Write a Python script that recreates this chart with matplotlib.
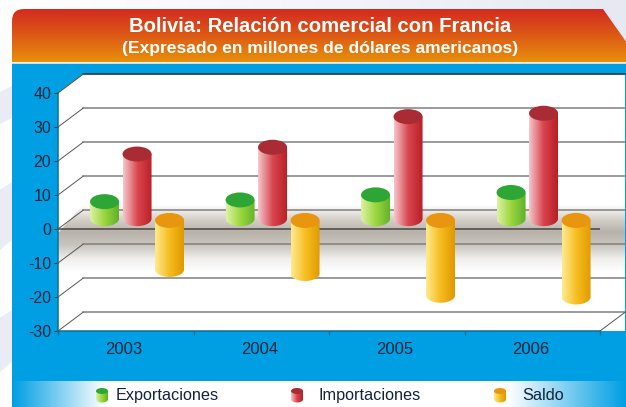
# Bolivia: relacion comercial con Francia, columnas cilindricas con pared 3D.

import numpy as np
import matplotlib
matplotlib.use("Agg")
from matplotlib import pyplot as plt
from matplotlib.colors import LinearSegmentedColormap
from matplotlib.patches import Ellipse, PathPatch, Polygon
from matplotlib.path import Path

plt.rcParams["font.family"] = ["Liberation Sans", "DejaVu Sans"]

ANIOS = ["2003", "2004", "2005", "2006"]
EXPORTACIONES = [5, 5.5, 7, 7.7]
IMPORTACIONES = [19, 21, 30, 31]
SALDO = [-14.4, -15.6, -22, -22.5]
TICKS_Y = [40, 30, 20, 10, 0, -10, -20, -30]

AZUL = "#009fe3"
TEXTO = "#10243c"
CORES = {
    "exp": (["#dcf2a6", "#9ad63c", "#5fb02c"], "#2ea636"),
    "imp": (["#f4c8cc", "#d9444e", "#b81f25"], "#a92b33"),
    "sal": (["#ffea90", "#f6bc20", "#df9800"], "#e8960f"),
}

W, H = 626, 407
X0, X1, Y_TOP, Y_BOT = 58, 600, 93, 331     # plano frontal en pixeles
DX_PX, DY_PX = 25, 18.7                     # profundidad


def gradiente(ax, colores, extent, horizontal=True, clip=None, z=1):
    cmap = LinearSegmentedColormap.from_list("g", colores)
    g = np.linspace(0, 1, 256)
    g = g.reshape(1, -1) if horizontal else g.reshape(-1, 1)
    im = ax.imshow(g, cmap=cmap, extent=extent, aspect="auto", zorder=z,
                   origin="upper", interpolation="bilinear")
    if clip is not None:
        im.set_clip_path(clip)
    else:
        im.set_clip_on(False)
    return im


fig = plt.figure(figsize=(W / 100, H / 100), dpi=100)

# fondo y paneles, en coordenadas de pixel
bg = fig.add_axes([0, 0, 1, 1])
bg.set_axis_off()
gradiente(bg, ["#ffffff", "#f3f5fa", "#e6e9f2"], (0, W, H, 0))
bg.set_xlim(0, W)
bg.set_ylim(H, 0)
for franja in ([(0, 92), (12, 86), (12, 118), (0, 124)],
               [(0, 190), (12, 182), (12, 240), (0, 250)],
               [(0, 318), (12, 310), (12, 362), (0, 372)]):
    bg.add_patch(Polygon(franja, color="#e9ecf5", lw=0, zorder=2))

bg.add_patch(Polygon([(12, 63), (W, 63), (W, H), (12, H)], color=AZUL, lw=0, zorder=2))

verts = [(12, 62), (12, 21), (12, 9), (24, 9), (603, 9), (627, 43), (627, 62), (12, 62)]
codes = [Path.MOVETO, Path.LINETO, Path.CURVE3, Path.CURVE3,
         Path.LINETO, Path.LINETO, Path.LINETO, Path.CLOSEPOLY]
cabecera = PathPatch(Path(verts, codes), transform=bg.transData, fc="none", lw=0)
bg.add_patch(cabecera)
gradiente(bg, ["#d42a1f", "#dd5a16", "#e8900a"], (12, W, 62, 9), horizontal=False, clip=cabecera, z=3)
bg.plot([12, W], [62.5, 62.5], color="#f4f0e6", lw=1.2, zorder=4)

bg.text(320, 27, "Bolivia: Relación comercial con Francia", color="white",
        fontsize=14.6, fontweight="bold", ha="center", va="center", zorder=5)
bg.text(320, 48.5, "(Expresado en millones de dólares americanos)", color="white",
        fontsize=12.6, fontweight="bold", ha="center", va="center", zorder=5)

# pared blanca con el piso y el costado
pared = [(X0, Y_TOP), (X0 + DX_PX, Y_TOP - DY_PX), (X1 + DX_PX, Y_TOP - DY_PX),
         (X1 + DX_PX, Y_BOT), (X0, Y_BOT)]
bg.add_patch(Polygon(pared, color="white", lw=0, zorder=3))
sombra = Polygon([(58, 233), (83, 205), (625, 205), (625, 272), (58, 272)],
                 transform=bg.transData, fc="none", lw=0)
bg.add_patch(sombra)
gradiente(bg, ["#ffffff", "#d6d2cc", "#b8b2aa", "#c9c5bf", "#efeeec", "#ffffff"],
          (58, 625, 272, 205), horizontal=False, clip=sombra, z=3)

# franja de la leyenda
gradiente(bg, [(0, AZUL), (0.15, "#ffffff"), (0.81, "#ffffff"), (1, AZUL)],
          (12, W, H, 381), z=3)
bg.set_xlim(0, W)
bg.set_ylim(H, 0)

# ejes de datos sobre el plano frontal
ax = fig.add_axes([X0 / W, 1 - Y_BOT / H, (X1 - X0) / W, (Y_BOT - Y_TOP) / H])
ax.patch.set_alpha(0)
ax.set_xlim(0, len(ANIOS))
ax.set_ylim(-30, 40)
px_x = len(ANIOS) / (X1 - X0)
px_y = 70 / (Y_BOT - Y_TOP)
dx, dy = DX_PX * px_x, DY_PX * px_y

ax.set_yticks(TICKS_Y)
ax.set_yticklabels([str(t) for t in TICKS_Y], fontsize=11.5, color=TEXTO)
ax.set_xticks(range(len(ANIOS) + 1))
ax.set_xticklabels([])
ax.set_xticks(np.arange(len(ANIOS)) + 0.485, minor=True)
ax.set_xticklabels(ANIOS, minor=True, fontsize=12, color=TEXTO)
ax.tick_params(axis="x", which="minor", length=0, pad=8)
ax.tick_params(axis="x", which="major", length=3, color="#0f6d94", width=1)
ax.tick_params(axis="y", length=3, color="#333333", width=0.8, pad=2)
for lado in ("top", "right"):
    ax.spines[lado].set_visible(False)
for lado in ("left", "bottom"):
    ax.spines[lado].set_color("#0f6d94")
    ax.spines[lado].set_linewidth(1.1)

# rejilla en la pared del fondo y en el costado
for t in TICKS_Y:
    col = "#10303a" if t == 40 else "#808080"
    ax.plot([dx, len(ANIOS) + dx], [t + dy, t + dy], color=col, lw=1.1, clip_on=False, zorder=1)
    ax.plot([0, dx], [t, t + dy], color="#555555", lw=0.7, clip_on=False, zorder=1)
ax.plot([0, len(ANIOS)], [0, 0], color="#4a4540", lw=1.1, zorder=1)
ax.plot([len(ANIOS), len(ANIOS) + dx], [-30, -30 + dy], color="#555555", lw=0.7, clip_on=False, zorder=1)


def cilindro(eje, xc, v0, v1, ancho, alto, clave, z):
    colores, tapa = CORES[clave]
    abajo, arriba = min(v0, v1), max(v0, v1)
    t = np.linspace(np.pi, 2 * np.pi, 60)
    arco_x = xc + ancho / 2 * np.cos(t)
    arco_y = abajo + alto / 2 * np.sin(t)
    cuerpo = np.vstack([[xc - ancho / 2, arriba], np.column_stack([arco_x, arco_y]),
                        [xc + ancho / 2, arriba]])
    clip = Polygon(cuerpo, closed=True, transform=eje.transData, fc="none", lw=0)
    eje.add_patch(clip)
    gradiente(eje, colores, (xc - ancho / 2, xc + ancho / 2, abajo - alto, arriba),
              clip=clip, z=z)
    eje.add_patch(Ellipse((xc, arriba), ancho, alto, fc=tapa, ec="none", zorder=z + 0.1,
                          clip_on=False))


ancho_c, alto_c = 29 * px_x, 15 * px_y
sep = 32.5 * px_x
for i in range(len(ANIOS)):
    centro = i + 0.5 + dx / 2 - 1.2 * px_x
    base_pos = dy / 2 + 1 * px_y
    base_neg = dy / 2 - 0.8 * px_y
    cilindro(ax, centro - sep, base_pos, base_pos + EXPORTACIONES[i], ancho_c, alto_c, "exp", 4)
    cilindro(ax, centro, base_pos, base_pos + IMPORTACIONES[i], ancho_c, alto_c, "imp", 4)
    cilindro(ax, centro + sep, base_neg, base_neg + SALDO[i], ancho_c, alto_c, "sal", 5)
ax.set_xlim(0, len(ANIOS))
ax.set_ylim(-30, 40)

# leyenda
for xi, xt, clave, nombre in ((102, 116, "exp", "Exportaciones"),
                              (297, 319, "imp", "Importaciones"),
                              (500, 522, "sal", "Saldo")):
    bg.text(xt, 395.5, nombre, fontsize=11.7, color=TEXTO, va="center", ha="left", zorder=6)
    colores, tapa = CORES[clave]
    icono = Polygon([(xi - 6, 391)] + [(xi + 6 * np.cos(a), 399.5 + 3 * np.sin(a))
                                       for a in np.linspace(np.pi, 0, 20)] + [(xi + 6, 391)],
                    transform=bg.transData, fc="none", lw=0)
    bg.add_patch(icono)
    gradiente(bg, colores, (xi - 6, xi + 6, 403, 391), clip=icono, z=6)
    bg.add_patch(Ellipse((xi, 391), 12, 6, fc=tapa, ec="none", zorder=6.1))
bg.set_xlim(0, W)
bg.set_ylim(H, 0)

fig.savefig("out.png", dpi=100)
plt.close(fig)
